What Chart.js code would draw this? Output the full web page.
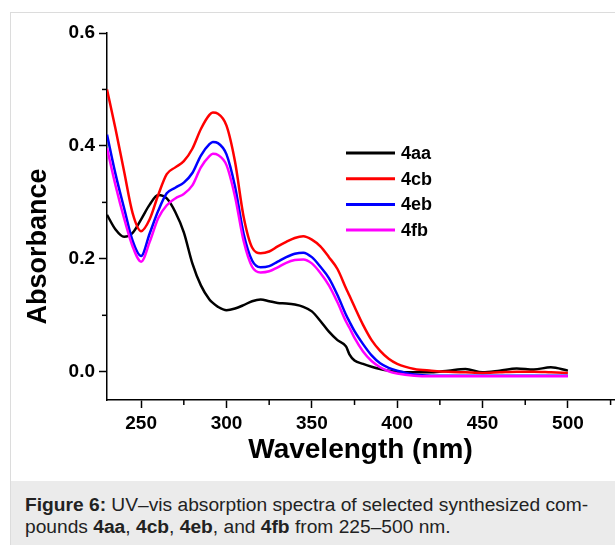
<!DOCTYPE html>
<html>
<head>
<meta charset="utf-8">
<script src="https://cdn.jsdelivr.net/npm/chart.js@4/dist/chart.umd.min.js"></script>
<style>
  body { margin: 0; width: 615px; height: 545px; overflow: hidden; background: #fff; font-family: "Liberation Sans", Arial, sans-serif; }
  #frame { position: absolute; left: 10px; top: 12px; width: 700px; height: 600px; border: 1px solid #dcdcdc; }
  #caption { position: absolute; left: 11px; top: 481px; width: 620px; height: 64px; background: #ebebeb; }
  #caption p { margin: 0; position: absolute; left: 14px; top: 13px; font-size: 19.2px; line-height: 22px; color: #222; white-space: nowrap; }
  #chart { position: absolute; left: 0; top: 0; }
</style>
</head>
<body>
<div id="frame"></div>
<canvas id="chart" width="615" height="481"></canvas>
<div id="caption"><p><b>Figure 6:</b> UV–vis absorption spectra of selected synthesized com-<br>pounds <b>4aa</b>, <b>4cb</b>, <b>4eb</b>, and <b>4fb</b> from 225–500 nm.</p></div>

<script>
//data
const wavelength = [230,235,240,245,250,255,260,265,270,275,280,285,290,292,295,300,305,310,315,320,325,330,335,340,345,350,355,360,365,370,372,375,380,385,390,395,400,410,420,430,440,450,460,470,480,490,500];

const abs4aa = [0.278,0.252,0.239,0.246,0.270,0.296,0.313,0.307,0.283,0.247,0.192,0.153,0.128,0.122,0.115,0.109,0.112,0.118,0.125,0.128,0.125,0.122,0.121,0.119,0.115,0.107,0.090,0.071,0.056,0.045,0.031,0.020,0.014,0.009,0.005,0.002,0.000,-0.001,-0.001,0.002,0.005,-0.001,0.002,0.006,0.004,0.008,0.002];
const abs4cb = [0.500,0.430,0.355,0.281,0.249,0.270,0.313,0.350,0.362,0.373,0.395,0.430,0.455,0.459,0.457,0.436,0.372,0.275,0.220,0.210,0.213,0.222,0.230,0.237,0.240,0.234,0.222,0.203,0.182,0.148,0.135,0.115,0.083,0.056,0.037,0.023,0.014,0.005,0.002,0.000,-0.001,-0.002,-0.001,0.000,0.000,-0.001,-0.002];
const abs4eb = [0.420,0.350,0.290,0.232,0.205,0.245,0.285,0.316,0.326,0.335,0.352,0.383,0.403,0.407,0.405,0.385,0.328,0.245,0.197,0.185,0.187,0.195,0.203,0.209,0.211,0.203,0.186,0.166,0.136,0.101,0.089,0.072,0.049,0.029,0.015,0.007,0.002,-0.005,-0.007,-0.007,-0.007,-0.007,-0.007,-0.007,-0.007,-0.007,-0.007];
const abs4fb = [0.396,0.330,0.272,0.222,0.195,0.230,0.272,0.295,0.307,0.315,0.330,0.362,0.382,0.386,0.384,0.366,0.310,0.232,0.186,0.176,0.178,0.185,0.193,0.198,0.199,0.192,0.175,0.153,0.123,0.089,0.078,0.060,0.036,0.019,0.008,0.001,-0.003,-0.007,-0.008,-0.008,-0.008,-0.008,-0.008,-0.008,-0.008,-0.008,-0.008];

const seriesNames = ['4aa', '4cb', '4eb', '4fb'];
const seriesColors = ['#000000', '#ff0000', '#0000ff', '#ff00ff'];
const seriesValues = [abs4aa, abs4cb, abs4eb, abs4fb];

const xTicks = [250, 300, 350, 400, 450, 500];
const xMinor = [275, 325, 375, 425, 475, 525];
const yTicks = [0.0, 0.2, 0.4, 0.6];
const yMinor = [0.1, 0.3, 0.5];

//minor ticks + legend inside the plot
const extras = {
  id: 'extras',
  afterDraw(chart) {
    const ctx = chart.ctx;
    const x = chart.scales.x, y = chart.scales.y;
    const area = chart.chartArea;
    ctx.save();
    ctx.strokeStyle = '#000';
    ctx.lineWidth = 1.5;
    xMinor.forEach(v => {
      if (v > x.max) return;
      const px = x.getPixelForValue(v);
      ctx.beginPath(); ctx.moveTo(px, area.bottom); ctx.lineTo(px, area.bottom + 5); ctx.stroke();
    });
    yMinor.forEach(v => {
      const py = y.getPixelForValue(v);
      ctx.beginPath(); ctx.moveTo(area.left - 5, py); ctx.lineTo(area.left, py); ctx.stroke();
    });

    ctx.font = 'bold 18px "Liberation Sans", Arial, sans-serif';
    ctx.textBaseline = 'middle';
    chart.data.datasets.forEach((ds, i) => {
      const rowY = 153 + i * 25.7;
      ctx.strokeStyle = ds.borderColor;
      ctx.lineWidth = 3;
      ctx.beginPath(); ctx.moveTo(346, rowY); ctx.lineTo(395, rowY); ctx.stroke();
      ctx.fillStyle = '#000';
      ctx.fillText(ds.label, 401, rowY + 1);
    });
    ctx.restore();
  }
};

const ctx = document.getElementById('chart').getContext('2d');
const myChart = new Chart(ctx, {
  type: 'line',
  data: {
    datasets: seriesNames.map((name, i) => ({
      label: name,
      data: wavelength.map((w, j) => ({ x: w, y: seriesValues[i][j] })),
      borderColor: seriesColors[i],
      borderWidth: 2.5,
      pointRadius: 0,
      fill: false,
      cubicInterpolationMode: 'monotone',
      order: seriesNames.length - i
    }))
  },
  options: {
    responsive: false,
    animation: false,
    events: [],
    layout: { padding: { top: 33, right: 1, bottom: 0, left: 0 } },
    plugins: { legend: { display: false }, tooltip: { enabled: false } },
    scales: {
      x: {
        type: 'linear',
        min: 230,
        max: 527,
        afterFit: s => { s.height = 81; },
        afterBuildTicks: s => { s.ticks = xTicks.map(v => ({ value: v })); },
        border: { display: true, color: '#000', width: 1.5 },
        grid: { drawOnChartArea: false, drawTicks: true, tickLength: 8, tickColor: '#000', tickWidth: 1.5 },
        ticks: { color: '#000', padding: 4, maxRotation: 0, font: { family: '"Liberation Sans", Arial', size: 19, weight: 'bold' } },
        title: {
          display: true,
          text: 'Wavelength (nm)',
          color: '#000',
          padding: { top: 0, bottom: 14 },
          font: { family: '"Liberation Sans", Arial', size: 28, weight: 'bold' }
        }
      },
      y: {
        min: -0.05,
        max: 0.6,
        afterFit: s => { s.width = 107; },
        afterBuildTicks: s => { s.ticks = yTicks.map(v => ({ value: v })); },
        border: { display: true, color: '#000', width: 1.5 },
        grid: { drawOnChartArea: false, drawTicks: true, tickLength: 8, tickColor: '#000', tickWidth: 1.5 },
        ticks: { color: '#000', padding: 4, callback: v => v.toFixed(1), font: { family: '"Liberation Sans", Arial', size: 19, weight: 'bold' } },
        title: {
          display: true,
          text: 'Absorbance        ',
          color: '#000',
          padding: { top: 22, bottom: 0 },
          font: { family: '"Liberation Sans", Arial', size: 27, weight: 'bold' }
        }
      }
    }
  },
  plugins: [extras]
});
</script>
</body>
</html>
